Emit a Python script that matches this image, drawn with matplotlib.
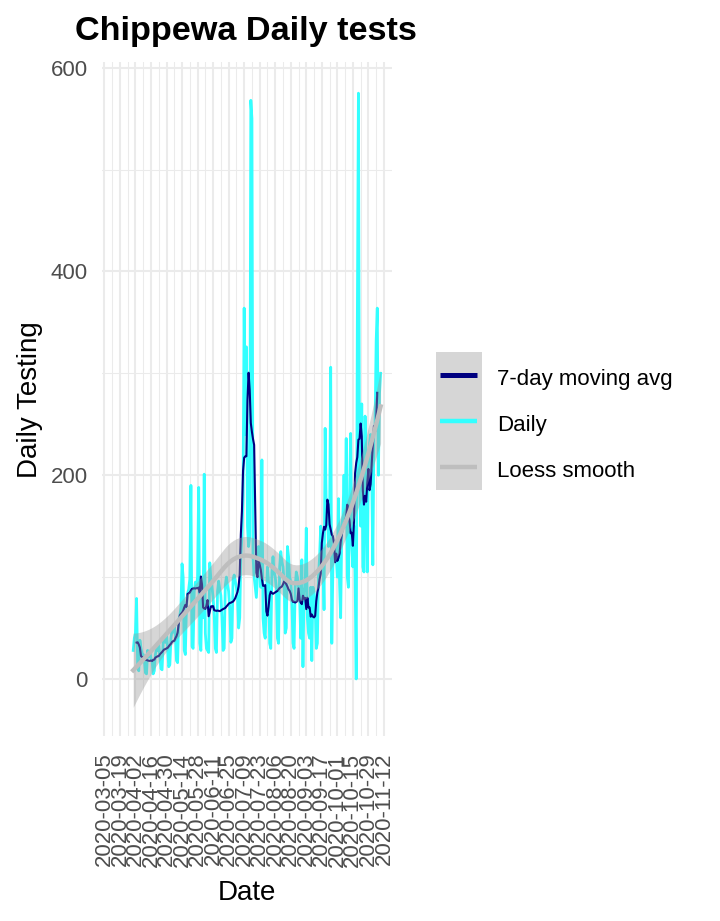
import numpy as np
import pandas as pd
import matplotlib
matplotlib.use("Agg")
import matplotlib.pyplot as plt
from matplotlib.patches import Rectangle
from matplotlib.ticker import FixedLocator

# daily tests, 2020-03-31 .. 2020-11-09 (one row per week)
start_date = "2020-03-31"
daily_tests = [
    28, 40, 45, 79, 12, 8, 38,
    30, 25, 24, 20, 6, 5, 28,
    22, 26, 20, 18, 5, 8, 24,
    30, 28, 34, 22, 10, 9, 36,
    38, 36, 44, 30, 12, 14, 40,
    48, 46, 52, 42, 18, 16, 58,
    62, 70, 113, 100, 28, 24, 72,
    84, 88, 98, 190, 32, 30, 86,
    95, 90, 100, 188, 35, 28, 92,
    60, 201, 45, 30, 28, 26, 114,
    98, 90, 80, 62, 30, 26, 86,
    96, 88, 82, 60, 28, 30, 92,
    100, 92, 86, 70, 36, 40, 98,
    102, 96, 90, 80, 50, 60, 120,
    140, 180, 364, 240, 326, 150, 130,
    140, 568, 550, 120, 100, 90, 80,
    100, 130, 110, 90, 215, 60, 45,
    40, 80, 110, 95, 35, 30, 105,
    120, 105, 100, 90, 40, 35, 110,
    125, 115, 110, 95, 45, 50, 130,
    120, 100, 95, 75, 35, 30, 90,
    105, 100, 90, 80, 40, 117, 12,
    85, 90, 148, 60, 45, 40, 90,
    18, 90, 85, 75, 30, 35, 100,
    120, 150, 120, 130, 68, 246, 166,
    166, 130, 150, 306, 35, 110, 130,
    130, 120, 100, 177, 94, 60, 150,
    160, 200, 150, 236, 100, 90, 180,
    241, 130, 110, 150, 104, 0, 345,
    575, 200, 150, 270, 110, 105, 258,
    200, 105, 210, 230, 240, 200, 112,
    240, 250, 332, 364, 200, 280, 300,
]

legend_labels = ["7-day moving avg", "Daily", "Loess smooth"]
col_ma = "#000080"
col_daily = "#33FFFF"
col_smooth = "#BEBEBE"
col_ribbon = "#999999"

dates = pd.date_range(start_date, periods=len(daily_tests), freq="D")
y = np.array(daily_tests, dtype=float)
ma7 = pd.Series(y).rolling(7, center=True).mean().values


def loess_rows(x, x0, span=0.75):
    # local quadratic, tricube weights (like R's loess)
    n = len(x)
    q = int(np.floor(n * span))
    rows = np.zeros((len(x0), n))
    for i, c in enumerate(x0):
        d = np.abs(x - c)
        h = np.sort(d)[q - 1]
        w = np.clip(1 - (d / h) ** 3, 0, None) ** 3
        B = np.column_stack([np.ones(n), x - c, (x - c) ** 2])
        BW = B * w[:, None]
        rows[i] = np.linalg.solve(B.T @ BW, BW.T)[0]
    return rows


xd = np.arange(len(y), dtype=float)
L = loess_rows(xd, xd)
res = y - L @ y
IL = np.eye(len(y)) - L
one_delta = np.trace(IL.T @ IL)
s = np.sqrt(np.sum(res ** 2) / one_delta)

xg = np.linspace(xd.min(), xd.max(), 80)
Lg = loess_rows(xd, xg)
fit = Lg @ y
se = s * np.sqrt(np.sum(Lg ** 2, axis=1))
lo = fit - 1.97 * se
hi = fit + 1.97 * se
grid_dates = dates[0] + pd.to_timedelta(xg, unit="D")

plt.rcParams["font.family"] = ["Liberation Sans", "DejaVu Sans"]

W, H = 720, 921
fig = plt.figure(figsize=(W / 100, H / 100), dpi=100)
ax = fig.add_axes([101.7 / W, 1 - 736 / H, 290 / W, 674 / H])

ax.plot(dates, y, color=col_daily, lw=2.0, zorder=2)
ax.plot(dates, ma7, color=col_ma, lw=1.5, zorder=3)
ax.fill_between(grid_dates, lo, hi, color=col_ribbon, alpha=0.4, lw=0, zorder=4)
ax.plot(grid_dates, fit, color=col_smooth, lw=3.2, zorder=5)

major = pd.date_range("2020-03-05", "2020-11-12", freq="14D")
minor = pd.date_range("2020-03-12", "2020-11-05", freq="14D")
ax.xaxis.set_major_locator(FixedLocator(matplotlib.dates.date2num(major)))
ax.xaxis.set_minor_locator(FixedLocator(matplotlib.dates.date2num(minor)))
ax.set_xticklabels([d.strftime("%Y-%m-%d") for d in major], rotation=90)
ax.set_yticks([0, 200, 400, 600])
ax.yaxis.set_minor_locator(FixedLocator([100, 300, 500]))

ax.set_xlim(pd.Timestamp("2020-03-02 14:00"), pd.Timestamp("2020-11-19"))
ax.set_ylim(-56, 605.6)

ax.grid(which="major", color="#EBEBEB", lw=1.45)
ax.grid(which="minor", color="#EBEBEB", lw=0.75)
ax.set_axisbelow(True)
for sp in ax.spines.values():
    sp.set_visible(False)
ax.tick_params(which="both", length=0, labelsize=16, labelcolor="#4D4D4D")
ax.tick_params(axis="y", pad=10)
ax.tick_params(axis="x", pad=12)

fig.text(75 / W, 1 - 40 / H, "Chippewa Daily tests", fontsize=24.7,
         fontweight="bold", va="baseline", ha="left")
fig.text(246.7 / W, 1 - 900 / H, "Date", fontsize=20, ha="center", va="baseline")
fig.text(30 / W, 1 - 400 / H, "Daily Testing", fontsize=20, rotation=90,
         ha="center", va="center")

# legend drawn by hand: grey key column like ggplot's smooth key
lax = fig.add_axes([436 / W, 1 - 490 / H, 46 / W, 138 / H])
lax.set_xlim(436, 482)
lax.set_ylim(490, 352)
lax.axis("off")
lax.add_patch(Rectangle((436, 352), 46, 138, color=col_ribbon, alpha=0.4, lw=0))
key_y = [375, 421, 467]
key_cols = [col_ma, col_daily, col_smooth]
key_lw = [3.6, 3.2, 3.2]
for ky, kc, kw in zip(key_y, key_cols, key_lw):
    lax.plot([440, 477], [ky, ky], color=kc, lw=kw, solid_capstyle="butt")
for ky, lab in zip(key_y, legend_labels):
    fig.text(497 / W, 1 - (ky + 10) / H, lab, fontsize=16, va="baseline", ha="left")

fig.savefig("out.png", dpi=100)
